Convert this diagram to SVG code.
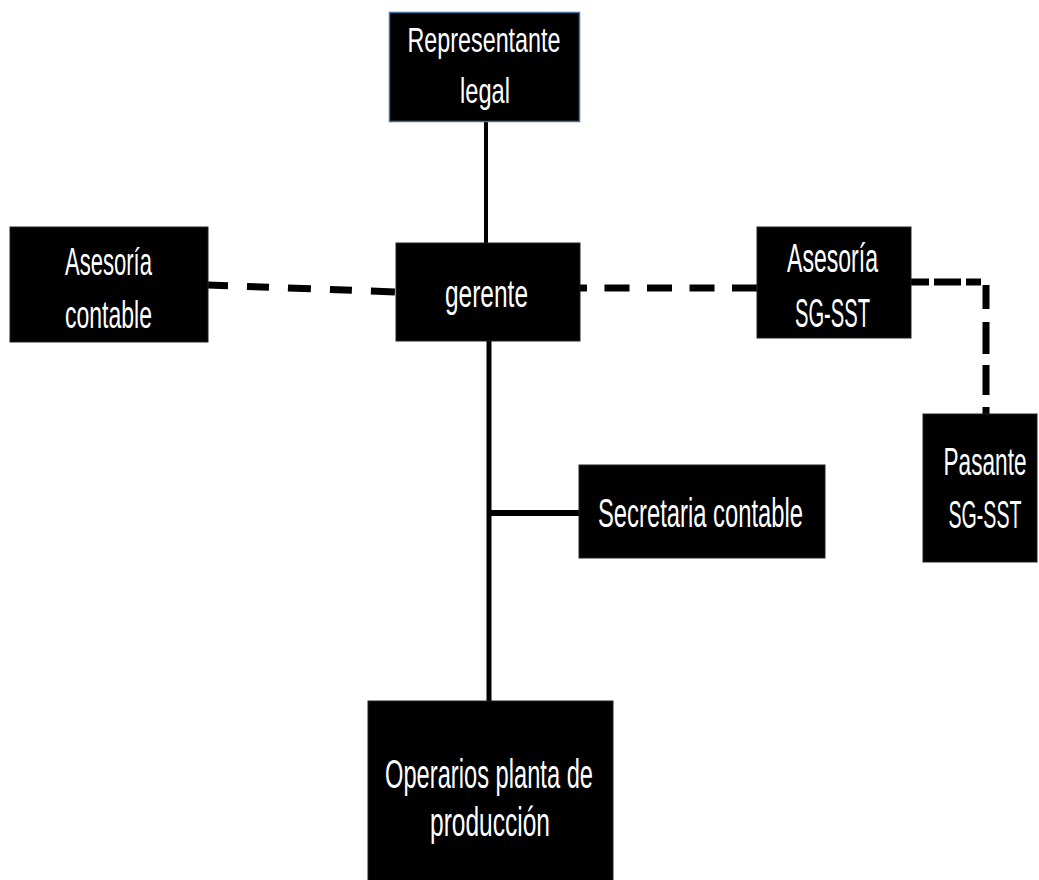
<svg xmlns="http://www.w3.org/2000/svg" width="1039" height="880" viewBox="0 0 1039 880">
<style>
.box{fill:#000;stroke:#222;stroke-width:1}
.t{fill:#fff;font-family:"Liberation Sans",Arial,sans-serif;text-anchor:middle}
.solid{stroke:#000;fill:none}
.dash{stroke:#000;fill:none;stroke-width:7}
</style>
<rect width="1039" height="880" fill="#fff"/>
<g id="connectors">
<line class="solid" x1="486" y1="122" x2="486" y2="243" stroke-width="4"/>
<line class="solid" x1="489" y1="340" x2="489" y2="702" stroke-width="5"/>
<line class="solid" x1="489" y1="513" x2="580" y2="513" stroke-width="6"/>
<line class="dash" x1="208" y1="285" x2="396" y2="292" stroke-dasharray="20 19 22 19 23 19 22 19 24"/>
<line class="dash" x1="757" y1="288" x2="580" y2="288" stroke-dasharray="25 17.5"/>
<path class="dash" d="M911 282 H986 V416" stroke-width="6" stroke-dasharray="18 5 27 5 15 8 24 13 32 11 30 12 18"/>
</g>
<g id="representante">
<rect x="389.5" y="12.5" width="190" height="109" fill="#000" stroke="#41719C" stroke-width="1.5"/>
<text class="t" font-size="35"><tspan x="484" y="52" textLength="153" lengthAdjust="spacingAndGlyphs">Representante</tspan><tspan x="485" y="103" textLength="50" lengthAdjust="spacingAndGlyphs">legal</tspan></text>
</g>
<g id="asesoria-contable">
<rect class="box" x="10" y="227" width="198" height="115"/>
<text class="t" font-size="39"><tspan x="108.5" y="275" textLength="87" lengthAdjust="spacingAndGlyphs">Asesoría</tspan><tspan x="108.5" y="328" textLength="87" lengthAdjust="spacingAndGlyphs">contable</tspan></text>
</g>
<g id="gerente">
<rect class="box" x="396" y="243" width="184" height="98"/>
<text class="t" x="486.5" y="307" font-size="38" textLength="83" lengthAdjust="spacingAndGlyphs">gerente</text>
</g>
<g id="asesoria-sgsst">
<rect class="box" x="757" y="227" width="154" height="111"/>
<text class="t" font-size="40"><tspan x="832.5" y="272" textLength="91" lengthAdjust="spacingAndGlyphs">Asesoría</tspan><tspan x="832.5" y="327" textLength="75" lengthAdjust="spacingAndGlyphs">SG-SST</tspan></text>
</g>
<g id="pasante">
<rect class="box" x="923" y="414" width="114" height="148"/>
<text class="t" transform="translate(985,475) scale(1,1.9)" font-size="20"><tspan x="0" y="0" textLength="83" lengthAdjust="spacingAndGlyphs">Pasante</tspan><tspan x="0" y="27.9" textLength="73" lengthAdjust="spacingAndGlyphs">SG-SST</tspan></text>
</g>
<g id="secretaria">
<rect class="box" x="579" y="465" width="246" height="93"/>
<text class="t" x="700.5" y="527" font-size="40" textLength="205" lengthAdjust="spacingAndGlyphs">Secretaria contable</text>
</g>
<g id="operarios">
<rect class="box" x="368" y="701" width="245" height="185"/>
<text class="t" font-size="41.5"><tspan x="489" y="788" textLength="208" lengthAdjust="spacingAndGlyphs">Operarios planta de</tspan><tspan x="490" y="836" textLength="120" lengthAdjust="spacingAndGlyphs">producción</tspan></text>
</g>
</svg>
